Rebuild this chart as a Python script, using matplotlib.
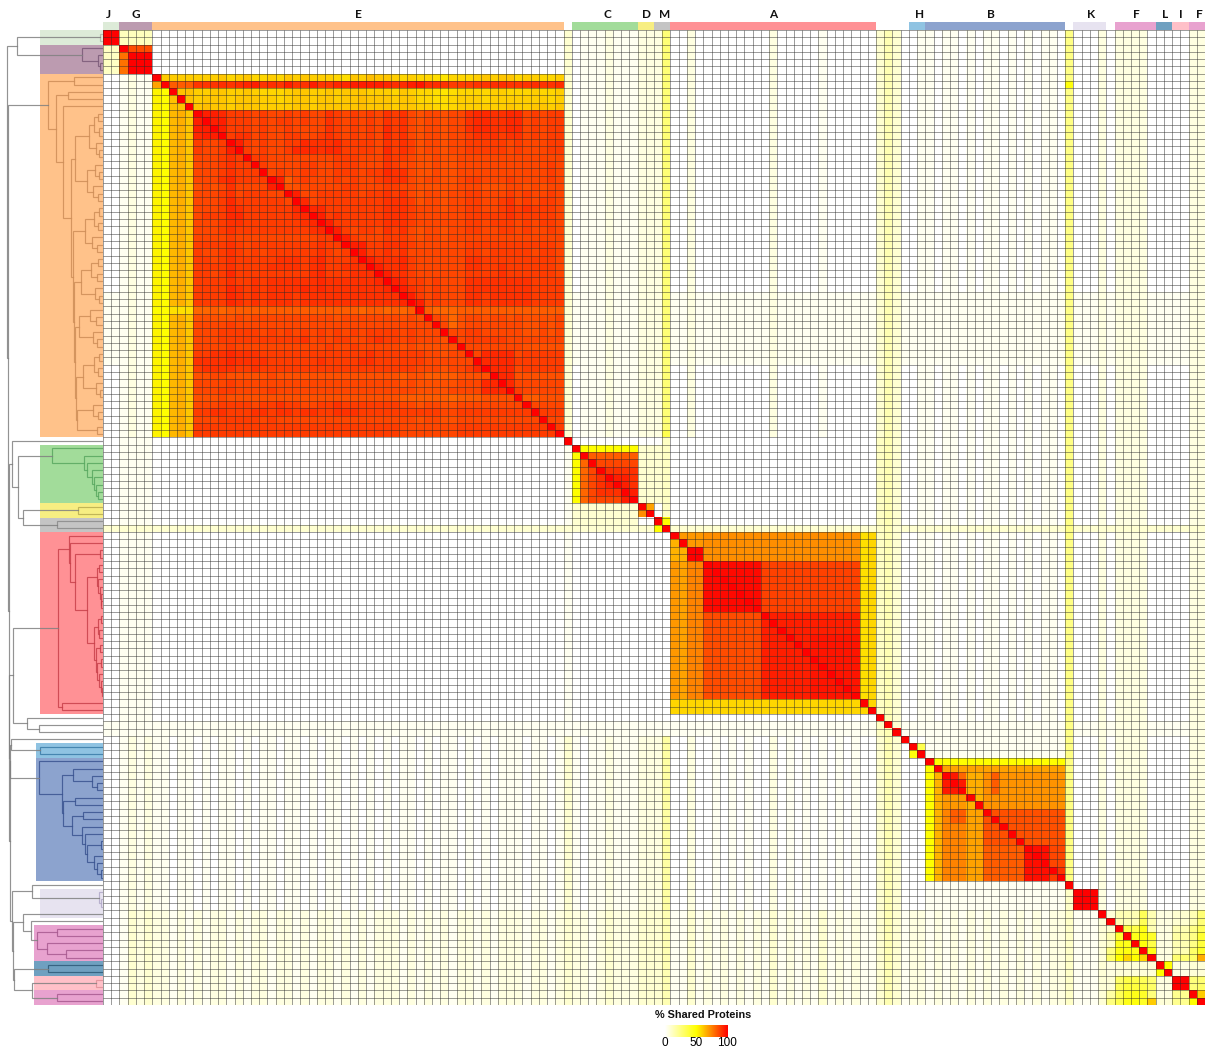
import numpy as np
import matplotlib
matplotlib.use("Agg")
import matplotlib.pyplot as plt
from matplotlib.colors import LinearSegmentedColormap

N = 134
# ---------- groups: name, first row, count, colour, dark colour, panel width
GROUP_NAMES  = ["J", "G", "E", "C", "D", "M", "A", "H", "B", "K", "F", "L", "I", "F"]
GROUP_START  = [0, 2, 6, 57, 65, 67, 69, 98, 100, 118, 123, 128, 130, 132]
GROUP_COUNT  = [2, 4, 50, 8, 2, 2, 25, 2, 17, 4, 5, 2, 2, 2]
GROUP_COLOR  = ["#DDEBD8", "#BC9BB0", "#FFC28A", "#A2DC9A", "#F7EE82", "#C4C4C4", "#FF9195",
                "#8FC3E2", "#8CA3CE", "#E7E3F0", "#E8A2CF", "#6FA0C0", "#FFC0C8", "#E8A2CF"]
GROUP_DARK   = ["#A8B8A8", "#7A5A78", "#CE8E58", "#58A860", "#B8AC50", "#8A8A8A", "#C8404A",
                "#3A7CA8", "#3A5490", "#B0A8C8", "#A85A90", "#2E5A78", "#E09098", "#A85A90"]
PANEL_WIDTH  = [63, 63, 63, 63, 63, 63, 63, 67, 67, 63, 69, 69, 69, 69]
LABEL_SHIFT  = [-3, 0, 0, 3, 1, 2, 0, 2, -4, 1, 1, 1, 0, 3]

# ---------- faint column tints, one digit per column (digit x 3 = percent)
COL_TINT_TOP = ("0012110000" "0000000000" "0000000000" "0000000000" "0000000000"
                "0000003011" "1211122290" "0200000000" "0200000100" "0000353001"
                "1011010110" "1010110800" "0202222000" "0022")
COL_TINT_MID = ("0011110000" "0000000000" "0000000000" "0000000000" "0000000000"
                "0000001000" "0000000000" "0000000000" "0000000000" "0000453001"
                "1011010110" "1010110800" "0202222000" "0022")
COL_TINT_LOW = ("0012121101" "1010110101" "1011010110" "1010101101" "0110101011"
                "1011013101" "1211122260" "0200101010" "0201010101" "0100353000"
                "1111111111" "1111111800" "0202222000" "0022")
COL_TINT_BOT = ("0013232212" "1212212122" "1221212212" "1212221212" "1212212122"
                "2122123221" "2322233351" "1312121212" "1312121312" "1211353122"
                "1212121212" "1212122411" "1222222211" "2222")
# faint row tints, one digit per row (digit x 3 = percent)
ROW_TINT = ("0000000000" "0000000000" "0000000000" "0000001111" "1111110000"
            "0000000000" "0000000030" "0000000000" "0000000000" "0000011000"
            "0000000000" "0000000000" "0000000000" "0000")

# ---------- E cluster: head rows (columns 11-55)
E_ROW6  = "55564 56445 46565 55436 57665 45443 24445 65664 55445"
E_ROW7  = "55565 67856 58558 55778 88876 68966 54445 56655 56556"
E_ROW8  = "55665 56544 45665 56566 65554 65443 23444 45544 45445"
E_ROW9  = "56665 66655 45665 66566 76665 66443 34555 45555 55545"
E_ROW10 = "67665 66655 55665 66666 76665 66554 34555 55565 56656"
# E core, rows 11-55 by columns 11-55 (digit d = 76 + 2d percent)
E_CORE = [
 "99986 66565 56565 57656 56576 75455 45578 87788 56566",
 "99996 66565 66565 57656 56576 75455 45578 87788 56566",
 "99996 66565 56555 57656 56586 75455 45578 87788 56566",
 "89996 77565 56655 67656 56586 75455 45567 77677 56566",
 "65569 96565 56687 77866 66576 76455 45566 66656 55566",
 "65569 96565 56888 78866 66586 76455 45566 66656 55566",
 "55567 69665 55555 55666 55576 65445 44555 55555 55555",
 "55567 66965 55566 55666 55576 55445 44555 55555 55565",
 "55567 66695 65566 55666 56687 75445 44555 55555 55565",
 "55578 66669 93565 55656 55677 75455 44566 55565 55565",
 "45457 55559 94455 55566 55566 55444 44555 44455 45455",
 "55567 56665 59955 66666 56676 75455 45566 55565 65565",
 "55568 66666 65985 66666 66677 76455 45566 55675 65665",
 "55568 76666 66898 86666 66677 76555 45566 55676 76665",
 "56668 86666 66789 96766 66677 76555 55566 66676 66665",
 "55567 76666 66678 99666 66677 76555 55566 56665 65665",
 "55567 66666 66667 88965 66576 75455 45566 55665 65565",
 "55556 55555 55555 66596 55566 65455 45555 55555 55555",
 "66667 65666 66666 76669 96677 76555 55566 66666 66665",
 "65567 65656 66666 76567 96676 75555 55566 56666 65665",
 "66567 66666 77767 86667 89777 86555 55577 66666 66665",
 "66667 66667 77767 86677 78977 86555 55577 66766 66665",
 "66568 66666 66667 86667 77997 76555 55566 66766 66665",
 "66667 66767 77777 87777 77899 86656 55577 77777 76666",
 "66668 76767 77787 87777 77789 97656 55577 77777 76666",
 "66668 76767 77677 77777 77777 99656 55577 67777 76666",
 "66668 76767 77677 77777 77777 89956 55577 67777 76666",
 "22323 33333 33333 33333 23323 23932 22333 33333 33333",
 "44444 54555 55555 55455 55555 45495 42455 45545 44445",
 "55556 55555 55555 55555 55555 55559 52455 55555 44545",
 "55566 66656 56565 65656 56666 56555 95566 55555 44545",
 "55566 66666 66675 65665 56766 56555 49566 66655 55555",
 "55556 55555 55555 56556 55555 45444 44955 55555 44444",
 "66778 77766 66666 66666 67666 66655 45595 88885 66666",
 "77778 77776 66666 76666 77666 66655 55559 88886 66666",
 "67777 66766 66666 66666 66666 66555 45568 98885 66666",
 "44554 44445 44444 44444 44444 34433 33444 49884 44444",
 "55556 55555 55555 55555 55555 45444 44555 88985 55555",
 "55566 55556 55555 55555 55555 55444 45555 88896 55555",
 "44454 44444 44444 44444 44444 33333 32333 44449 33444",
 "55566 66566 76655 66766 66666 55455 44555 55555 95555",
 "66776 66776 77677 66777 66666 66666 55666 66666 69666",
 "55566 66656 55555 55555 55555 55455 44555 55555 55955",
 "66666 66666 66666 66666 66666 55555 55666 66666 66696",
 "66666 66666 66666 66666 66666 55555 55666 66666 66669",
]

# ---------- estimated block values: first row, last row, first col, last col, percent
BLOCKS = [
 # J / G
 (0, 1, 0, 1, 100), (0, 1, 2, 5, 13), (2, 5, 0, 1, 12), (2, 2, 3, 5, 85), (3, 5, 2, 2, 78), (3, 5, 3, 5, 100),
 # E left columns
 (6, 6, 7, 10, 60), (7, 7, 6, 6, 68), (7, 7, 8, 10, 82),
 (8, 55, 6, 6, 52), (8, 55, 7, 7, 50), (8, 10, 8, 10, 62),
 (11, 55, 8, 8, 64), (11, 55, 9, 9, 66), (11, 55, 10, 10, 61),
 (38, 38, 6, 7, 50), (38, 38, 8, 10, 56),
 # C / D / M
 (55, 55, 68, 68, 35), (56, 67, 68, 68, 12), (57, 64, 65, 67, 9), (65, 68, 57, 64, 9),
 (57, 57, 58, 64, 50), (58, 64, 57, 57, 50),
 (58, 64, 58, 58, 80), (58, 58, 59, 64, 82), (59, 64, 59, 59, 86), (59, 64, 60, 64, 90),
 (59, 59, 60, 64, 86), (60, 60, 60, 64, 90), (61, 62, 61, 63, 94), (63, 64, 63, 64, 94),
 (64, 64, 59, 62, 86),
 (65, 65, 66, 66, 68), (66, 66, 65, 65, 72), (67, 67, 68, 68, 50), (68, 68, 67, 67, 50),
 # A
 (69, 72, 70, 72, 70), (69, 72, 73, 91, 72), (70, 72, 69, 69, 65), (71, 72, 70, 70, 65),
 (71, 72, 71, 72, 100),
 (73, 91, 69, 69, 70), (73, 91, 70, 70, 68), (73, 91, 71, 72, 74),
 (73, 79, 73, 79, 98), (73, 79, 80, 91, 87), (80, 91, 73, 79, 85), (80, 91, 80, 91, 94),
 (83, 91, 86, 91, 96), (69, 91, 92, 92, 56), (69, 91, 93, 93, 58), (92, 93, 69, 93, 58),
 # H / B
 (98, 98, 99, 99, 35), (99, 99, 98, 98, 48),
 (100, 100, 101, 116, 50), (101, 116, 100, 100, 50), (101, 101, 102, 116, 68),
 (102, 116, 101, 101, 65), (102, 104, 102, 104, 95), (102, 102, 104, 104, 80),
 (102, 104, 105, 106, 66), (102, 104, 107, 107, 72), (102, 104, 108, 108, 82),
 (102, 104, 109, 116, 71), (105, 106, 102, 104, 70), (105, 106, 105, 106, 65),
 (105, 106, 107, 116, 71), (107, 116, 102, 104, 74), (107, 108, 103, 104, 82),
 (107, 116, 105, 106, 68), (107, 111, 107, 116, 84), (112, 116, 107, 111, 82),
 (112, 116, 112, 114, 97), (112, 114, 115, 116, 86), (115, 115, 115, 116, 90),
 (116, 116, 115, 115, 88), (118, 120, 118, 120, 100),
 (118, 133, 117, 117, 11), (7, 7, 117, 117, 48), (121, 133, 121, 121, 8),
]
# lower right corner, rows 121-133 by columns 122-133
CORNER = [
 [8, 15, 15, 15, 33, 15, 6, 6, 9, 9, 15, 27],
 [100, 15, 15, 15, 33, 15, 6, 6, 9, 9, 15, 27],
 [9, 100, 36, 36, 45, 15, 6, 6, 15, 15, 24, 33],
 [15, 40, 100, 45, 48, 42, 6, 6, 18, 18, 24, 40],
 [12, 45, 45, 100, 48, 36, 6, 6, 15, 15, 24, 38],
 [25, 45, 47, 45, 100, 45, 6, 6, 15, 15, 30, 42],
 [30, 50, 58, 50, 58, 100, 6, 6, 28, 28, 30, 66],
 [6, 8, 8, 8, 8, 8, 100, 50, 6, 6, 8, 8],
 [6, 8, 8, 8, 8, 8, 50, 100, 6, 6, 8, 8],
 [8, 30, 36, 36, 33, 28, 6, 6, 100, 100, 26, 28],
 [8, 33, 38, 38, 36, 30, 6, 6, 100, 100, 26, 30],
 [18, 33, 42, 45, 42, 26, 6, 6, 22, 22, 100, 60],
 [25, 35, 45, 48, 42, 60, 8, 8, 22, 22, 50, 100],
]

# ---------- dendrogram: [merge distance, child, child]; ints are rows
T_J = [3, 0, 1]
T_G = [21, 2, [5, 3, [3, 4, 5]]]
T_E = [55, [29, 6, 7], [47, [35, 8, 9], [40, 10,
      [32, [28, [14, [9, [5, 11, 12], [4, 13, 14]], [7, 15, [4, 16, 17]]],
                [16, [8, 18, [4, 19, 20]], [10, 21, [5, 22, 23]]]],
            [30, [18, [9, [4, 24, 25], [5, 26, 27]], [11, 28, [6, 29, 30]]],
                 [29, [22, [12, [5, 31, 32], [6, 33, 34]], [8, 35, [4, 36, 37]]],
                      [28, [24, [13, 38, [7, 39, 40]], [10, 41, [6, 42, 43]]],
                           [27, [20, [9, [4, 44, 45], [5, 46, 47]], [7, 48, [3, 49, 50]]],
                                [26, [10, 51, [5, 52, 53]], [6, 54, 55]]]]]]]]]]
T_C = [51, 57, [19, 58, [16, 59, [11, 60, [9, 61, [7, 62, [5, 63, 64]]]]]]]
T_D = [25, 65, 66]
T_M = [46, 67, 68]
T_A = [45, [34, 69, [33, 70, [28, [3, 71, 72],
       [16, [6, [4, 73, 74], [5, 75, [3, 76, [2, 77, [1.5, 78, 79]]]]],
            [9, [5, [2, 80, 81], [4, 82, 83]], [7, [3, 84, 85], [6, [2, 86, 87], [4, 88, [2, 89, [1, 90, 91]]]]]]]]]],
       [41, 92, 93]]
T_H = [63, 98, 99]
T_B = [64, 100, [41, [30, 101, [11, 102, [6, 103, 104]]],
       [40, [28, 105, 106], [31, [20, 107, 108],
        [21, 109, [18, 110, [16, [2, 111, 112], [9, 113, [6, 114, [2, 115, 116]]]]]]]]]]
T_K = [4, 118, [2, 119, 120]]
T_F1 = [66, [46, 123, 124], [56, 125, [37, 126, 127]]]
T_L = [55, 128, 129]
T_I = [7, 130, 131]
T_F2 = [46, 132, 133]
T_UN = [76, 94, [64, 95, 96]]
ROOT = [96, [86, T_J, T_G],
        [95, T_E,
         [94.5, [91, 56, [85, T_C, [80, T_D, T_M]]],
          [94, [90, T_A, T_UN],
           [93.5, [93, [92, 97, T_H], T_B],
            [91.5, [71, 117, T_K],
             [90, [80, 121, [72, 122, T_F1]], [89, T_L, [71, T_I, T_F2]]]]]]]]]
TREE_COLORS = {id(T_J): GROUP_DARK[0], id(T_G): GROUP_DARK[1], id(T_E): GROUP_DARK[2],
               id(T_C): GROUP_DARK[3], id(T_D): GROUP_DARK[4], id(T_M): GROUP_DARK[5],
               id(T_A): GROUP_DARK[6], id(T_H): GROUP_DARK[7], id(T_B): GROUP_DARK[8],
               id(T_K): GROUP_DARK[9], id(T_F1): GROUP_DARK[10], id(T_L): GROUP_DARK[11],
               id(T_I): GROUP_DARK[12], id(T_F2): GROUP_DARK[13]}

# ---------- matrix
def digits(s):
    return np.array([int(ch) for ch in s.replace(" ", "")], float)

matrix = np.zeros((N, N))
top, mid, low, bot, row_t = (digits(COL_TINT_TOP), digits(COL_TINT_MID), digits(COL_TINT_LOW),
                             digits(COL_TINT_BOT), digits(ROW_TINT))
for r in range(N):
    tint = top if r <= 55 else (mid if r <= 96 else (low if r <= 120 else bot))
    matrix[r] = np.maximum(tint, row_t[r]) * 3
matrix[:6, 6:56] = 0
for r0, r1, c0, c1, v in BLOCKS:
    matrix[r0:r1 + 1, c0:c1 + 1] = v
matrix[6, 11:56] = 52 + 1.5 * digits(E_ROW6)
matrix[7, 11:56] = 82 + 1.5 * digits(E_ROW7)
matrix[8, 11:56] = 52 + 1.5 * digits(E_ROW8)
matrix[9, 11:56] = 52 + 1.5 * digits(E_ROW9)
matrix[10, 11:56] = 52 + 1.5 * digits(E_ROW10)
for i, row in enumerate(E_CORE):
    matrix[11 + i, 11:56] = 76 + 2 * digits(row)
matrix[121:134, 122:134] = np.array(CORNER, float)
matrix[np.arange(N), np.arange(N)] = 100

# ---------- figure
W, H = 1205, 1048
fig = plt.figure(figsize=(W / 100, H / 100), dpi=100, facecolor="white")
def px_axes(x0, y0, x1, y1):
    return fig.add_axes([x0 / W, 1 - y1 / H, (x1 - x0) / W, (y1 - y0) / H])

cmap = LinearSegmentedColormap.from_list("shared", ["#FFFFFF", "#FFFF00", "#FF0000"])
ax = px_axes(103, 30, 1205, 1005)
ax.imshow(matrix, cmap=cmap, vmin=0, vmax=100, aspect="auto", interpolation="nearest")
edges = np.arange(N + 1) - 0.5
ax.vlines(edges, -0.5, N - 0.5, color="#2a2a2a", lw=0.6, alpha=0.55)
ax.hlines(edges, -0.5, N - 0.5, color="#2a2a2a", lw=0.6, alpha=0.55)
ax.set_xlim(-0.5, N - 0.5)
ax.set_ylim(N - 0.5, -0.5)
ax.axis("off")

# top group strip
top_ax = px_axes(103, 22, 1205, 30)
top_ax.bar(GROUP_START, [1] * len(GROUP_START), width=GROUP_COUNT, align="edge", color=GROUP_COLOR, bottom=0)
top_ax.set_xlim(0, N)
top_ax.set_ylim(0, 1)
top_ax.axis("off")
cell_w = 1102 / N
for name, s, c, shift in zip(GROUP_NAMES, GROUP_START, GROUP_COUNT, LABEL_SHIFT):
    top_ax.text(s + c / 2 + shift / cell_w, 1.875, name, ha="center", va="center", fontsize=8.5,
                fontweight="bold", family="Lato", color="#111111", clip_on=False)

# dendrogram panel
den = px_axes(0, 30, 103, 1005)
den.barh([s + c / 2 for s, c in zip(GROUP_START, GROUP_COUNT)], PANEL_WIDTH, height=GROUP_COUNT,
         color=GROUP_COLOR, left=0, zorder=1)

def draw(node, color):
    if not isinstance(node, list):
        return node + 0.5, 0.0
    color = TREE_COLORS.get(id(node), color)
    d, a, b = node
    ya, da = draw(a, color)
    yb, db = draw(b, color)
    den.plot([da, d, d, db], [ya, ya, yb, yb], color=color, lw=0.85, alpha=0.85, zorder=2,
             solid_joinstyle="miter")
    return (ya + yb) / 2, d

draw(ROOT, "#808080")
den.set_xlim(103, 0)
den.set_ylim(N, 0)
den.axis("off")

# colour key
key = px_axes(665, 1025, 727, 1037)
key.imshow(np.linspace(0, 100, 256)[None, :], cmap=cmap, vmin=0, vmax=100, aspect="auto",
           extent=[0, 100, 0, 1])
key.set_yticks([])
key.set_xticks([0, 50, 100])
key.set_xticklabels(["0", "50", "100"], family="Liberation Sans", fontsize=8.5)
key.tick_params(axis="x", length=0, pad=0)
for s in key.spines.values():
    s.set_visible(False)
fig.text(703.5 / W, 1 - 1015 / H, "% Shared Proteins", family="Liberation Sans", fontsize=7.8,
         fontweight="bold", ha="center", va="center", color="#111111")

fig.savefig("out.png", dpi=100, facecolor="white")
